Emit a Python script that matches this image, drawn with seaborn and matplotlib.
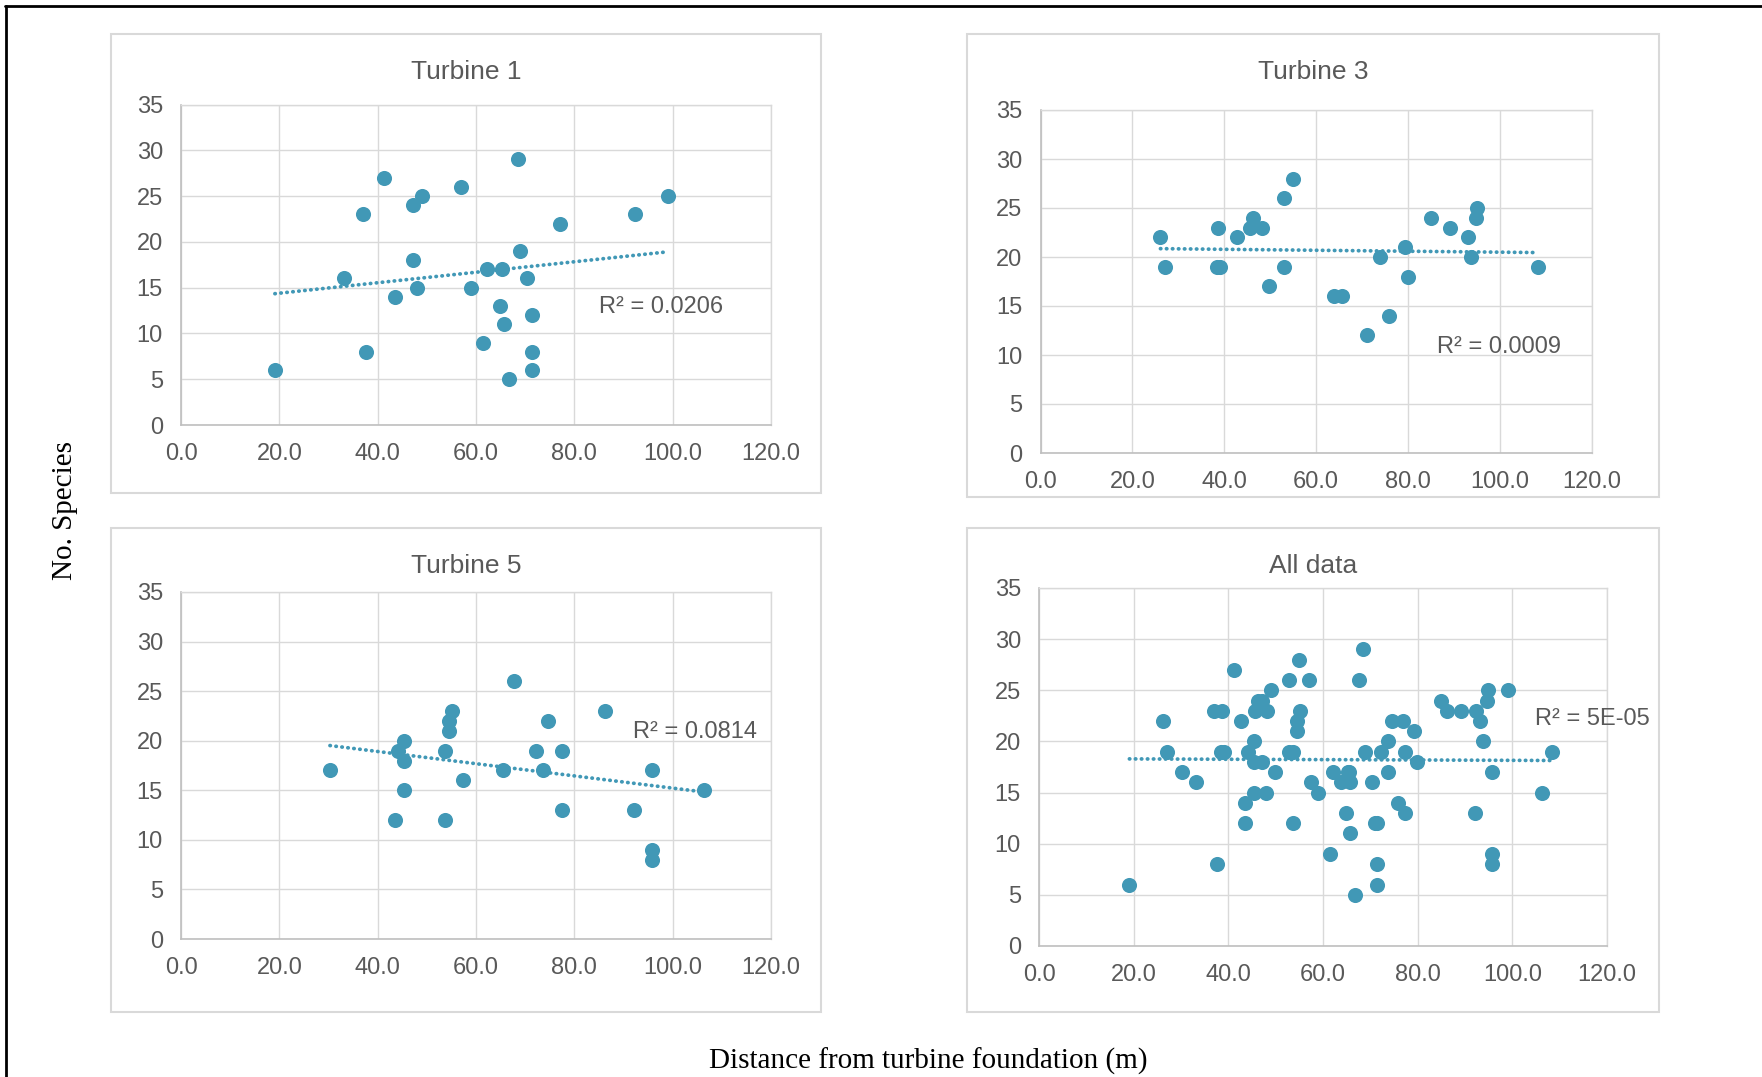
import numpy as np
import pandas as pd
import matplotlib
matplotlib.use("Agg")
import matplotlib.pyplot as plt
from matplotlib.patches import Rectangle
from matplotlib.lines import Line2D
import seaborn as sns

# data: distance (m) and number of species
t1_dist = [19.1, 33.1, 37.0, 37.6, 41.3, 43.5, 47.2, 47.2, 49.1, 48.0, 57.0, 58.9, 61.4, 62.2,
           65.3, 64.8, 65.7, 66.8, 68.5, 68.9, 70.3, 71.4, 71.4, 71.4, 77.0, 92.3, 99.1]
t1_species = [6, 16, 23, 8, 27, 14, 24, 18, 25, 15, 26, 15, 9, 17,
              17, 13, 11, 5, 29, 19, 16, 12, 8, 6, 22, 23, 25]

t3_dist = [26.1, 27.1, 38.6, 38.5, 39.0, 42.7, 46.2, 45.6, 48.1, 49.8, 52.9, 52.9, 54.9, 63.9,
           65.6, 71.0, 73.8, 75.9, 79.3, 79.9, 84.9, 89.2, 93.1, 93.7, 94.9, 94.7, 108.3]
t3_species = [22, 19, 23, 19, 19, 22, 24, 23, 23, 17, 26, 19, 28, 16,
              16, 12, 20, 14, 21, 18, 24, 23, 22, 20, 25, 24, 19]

t5_dist = [30.3, 43.6, 44.2, 45.4, 45.4, 45.4, 53.7, 53.7, 54.5, 54.5, 55.2, 57.4, 65.5,
           67.7, 72.2, 73.7, 74.6, 77.4, 77.4, 86.2, 92.1, 95.7, 95.7, 95.7, 106.3]
t5_species = [17, 12, 19, 20, 18, 15, 19, 12, 21, 22, 23, 16, 17,
              26, 19, 17, 22, 19, 13, 23, 13, 17, 9, 8, 15]

titles = ["Turbine 1", "Turbine 3", "Turbine 5", "All data"]
r2_labels = ["R² = 0.0206", "R² = 0.0009", "R² = 0.0814", "R² = 5E-05"]

all_dist = t1_dist + t3_dist + t5_dist
all_species = t1_species + t3_species + t5_species

W, H = 1762, 1077
BLUE = "#4198B6"
GREY_TXT = "#595959"

sns.set_style("white")
plt.rcParams["font.family"] = ["Liberation Sans", "DejaVu Sans"]

fig = plt.figure(figsize=(W / 100, H / 100), dpi=100)


def px_rect(left, top, right, bottom):
    return [left / W, 1 - bottom / H, (right - left) / W, (bottom - top) / H]


# panel boxes (pixels) and plot areas (pixels)
boxes = [(111, 34, 821, 493), (967, 34, 1659, 497), (111, 528, 821, 1012), (967, 528, 1659, 1012)]
areas = [(181, 104.5, 771, 425), (1040.5, 110, 1592, 453), (181, 592, 771, 939), (1039, 588, 1607, 946)]
title_y = [72, 72, 566, 566]
# R² label anchor in data units
r2_pos = [(85, 12.9), (86.3, 10.8), (91.9, 20.9), (104.8, 22.2)]

series = [(t1_dist, t1_species), (t3_dist, t3_species), (t5_dist, t5_species), (all_dist, all_species)]

for i in range(4):
    l, t, r, b = boxes[i]
    fig.patches.append(Rectangle((l / W, 1 - b / H), (r - l) / W, (b - t) / H,
                                 transform=fig.transFigure, fill=False,
                                 edgecolor="#D9D9D9", linewidth=1.5))
    fig.text((l + r) / 2 / W, 1 - title_y[i] / H, titles[i], ha="center", va="center",
             fontsize=19, color=GREY_TXT)

    ax = fig.add_axes(px_rect(*areas[i]))
    df = pd.DataFrame({"dist": series[i][0], "species": series[i][1]})
    sns.regplot(data=df, x="dist", y="species", ax=ax, ci=None, truncate=True,
                scatter_kws=dict(s=118, color=BLUE, linewidths=0, alpha=1, zorder=3),
                line_kws=dict(color=BLUE, lw=2.7, linestyle=(0, (0.1, 1.5)),
                              dash_capstyle="round", zorder=2))
    ax.set_xlim(0, 120)
    ax.set_ylim(0, 35)
    ax.set_xticks(np.arange(0, 121, 20))
    ax.set_xticklabels([f"{v:.1f}" for v in np.arange(0, 121, 20)])
    ax.set_yticks(np.arange(0, 36, 5))
    ax.set_xlabel("")
    ax.set_ylabel("")
    ax.grid(True, color="#D9D9D9", linewidth=1.0)
    ax.set_axisbelow(True)
    for side in ["top", "right"]:
        ax.spines[side].set_color("#D9D9D9")
        ax.spines[side].set_linewidth(1.0)
    for side in ["left", "bottom"]:
        ax.spines[side].set_color("#BFBFBF")
        ax.spines[side].set_linewidth(1.2)
    ax.tick_params(length=0, labelsize=17, colors=GREY_TXT)
    ax.tick_params(axis="x", pad=13)
    ax.tick_params(axis="y", pad=13)
    ax.text(r2_pos[i][0], r2_pos[i][1], r2_labels[i], ha="left", va="center",
            fontsize=17, color=GREY_TXT, clip_on=False)

fig.text(65 / W, 1 - 511 / H, "No. Species", rotation=90, ha="center", va="center",
         fontsize=21, family="Liberation Serif", color="black")
fig.text(928 / W, 1 - 1061 / H, "Distance from turbine foundation (m)", ha="center", va="center",
         fontsize=21, family="Liberation Serif", color="black")

# outer frame: top and left edges only
fig.lines.append(Line2D([5 / W, 1], [1 - 6 / H, 1 - 6 / H], transform=fig.transFigure,
                        color="black", linewidth=2))
fig.lines.append(Line2D([6 / W, 6 / W], [0, 1 - 6 / H], transform=fig.transFigure,
                        color="black", linewidth=2))

fig.savefig("out.png", dpi=100)
